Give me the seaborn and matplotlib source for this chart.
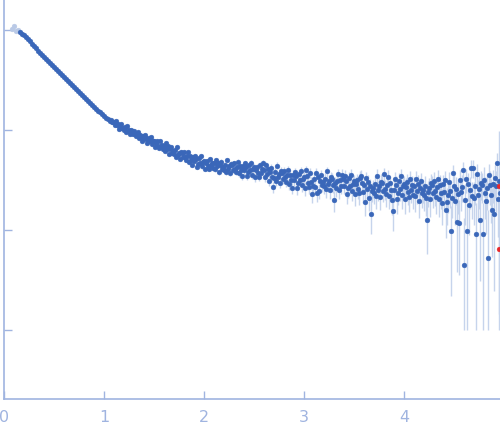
import numpy as np
import pandas as pd
import seaborn as sns
import matplotlib
matplotlib.use("Agg")
import matplotlib.pyplot as plt

# ------------------------------- setting start ------------------------------ #
point_color = "#3a67b9"
excluded_color = "#b9c9e6"
err_color = "#c6d4ec"
axis_color = "#a0b4e0"
red_color = "#e8272a"
# -------------------------------- setting end ------------------------------- #

# q grid (1/nm)
q_low = np.round(np.arange(0.08, 1.07, 0.02), 2)
q_high = np.round(np.arange(1.07, 4.965, 0.01), 2)

# log10 intensity
logI_low = [
    1.01, 1.04, 0.99, 1.00, 0.975, 0.96, 0.945, 0.925, 0.905, 0.885,
    0.856, 0.835, 0.816, 0.792, 0.773, 0.752, 0.733, 0.709, 0.690, 0.669,
    0.651, 0.629, 0.611, 0.590, 0.571, 0.548, 0.531, 0.509, 0.491, 0.469,
    0.451, 0.429, 0.410, 0.388, 0.371, 0.349, 0.330, 0.308, 0.291, 0.269,
    0.252, 0.229, 0.213, 0.191, 0.176, 0.155, 0.143, 0.122, 0.111, 0.092,
]
logI_high = [
    0.096, 0.075, 0.081,
    0.077, 0.046, 0.086, 0.050, 0.064, 0.014, 0.042, 0.057, 0.018, 0.023,
    0.004, 0.025, -0.017, 0.040, -0.010, -0.002, -0.042, 0.000, -0.011, -0.040,
    -0.010, -0.042, -0.064, -0.040, -0.019, -0.083, -0.048, -0.075, -0.110, -0.059,
    -0.086, -0.055, -0.077, -0.130, -0.113, -0.079, -0.110, -0.073, -0.140, -0.115,
    -0.107, -0.170, -0.127, -0.113, -0.158, -0.181, -0.111, -0.164, -0.146, -0.191,
    -0.158, -0.207, -0.135, -0.192, -0.164, -0.245, -0.193, -0.166, -0.226, -0.215,
    -0.240, -0.203, -0.266, -0.170, -0.246, -0.229, -0.288, -0.217, -0.230, -0.272,
    -0.220, -0.268, -0.299, -0.259, -0.223, -0.320, -0.262, -0.301, -0.354, -0.270,
    -0.309, -0.258, -0.289, -0.366, -0.337, -0.281, -0.326, -0.265, -0.365, -0.322,
    -0.311, -0.389, -0.328, -0.306, -0.360, -0.386, -0.291, -0.355, -0.328, -0.382,
    -0.335, -0.392, -0.298, -0.365, -0.326, -0.423, -0.354, -0.316, -0.387, -0.369,
    -0.396, -0.346, -0.420, -0.297, -0.387, -0.362, -0.431, -0.339, -0.351, -0.399,
    -0.331, -0.387, -0.421, -0.367, -0.318, -0.435, -0.359, -0.404, -0.465, -0.356,
    -0.401, -0.335, -0.370, -0.463, -0.425, -0.352, -0.405, -0.326, -0.448, -0.392,
    -0.375, -0.472, -0.396, -0.367, -0.434, -0.466, -0.347, -0.426, -0.391, -0.330,
    -0.399, -0.470, -0.354, -0.437, -0.390, -0.510, -0.425, -0.378, -0.467, -0.570,
    -0.479, -0.417, -0.510, -0.357, -0.470, -0.440, -0.527, -0.412, -0.428, -0.489,
    -0.406, -0.474, -0.516, -0.453, -0.396, -0.537, -0.447, -0.502, -0.577, -0.448,
    -0.504, -0.423, -0.465, -0.576, -0.529, -0.442, -0.505, -0.411, -0.555, -0.488,
    -0.468, -0.581, -0.400, -0.456, -0.534, -0.570, -0.430, -0.522, -0.640, -0.558,
    -0.488, -0.568, -0.432, -0.630, -0.469, -0.607, -0.506, -0.449, -0.551, -0.523,
    -0.560, -0.487, -0.592, -0.415, -0.542, -0.506, -0.603, -0.471, -0.486, -0.554,
    -0.700, -0.534, -0.581, -0.507, -0.440, -0.601, -0.496, -0.558, -0.450, -0.493,
    -0.556, -0.464, -0.512, -0.638, -0.585, -0.485, -0.557, -0.449, -0.614, -0.538,
    -0.515, -0.645, -0.542, -0.504, -0.593, -0.635, -0.476, -0.460, -0.535, -0.625,
    -0.546, -0.720, -0.481, -0.588, -0.522, -0.679, -0.565, -0.840, -0.614, -0.582,
    -0.626, -0.541, -0.660, -0.456, -0.601, -0.558, -0.669, -0.516, -0.533, -0.609,
    -0.440, -0.587, -0.640, -0.552, -0.472, -0.657, -0.534, -0.604, -0.701, -0.810,
    -0.600, -0.492, -0.546, -0.690, -0.627, -0.510, -0.591, -0.465, -0.654, -0.564,
    -0.542, -0.686, -0.569, -0.524, -0.623, -0.668, -0.488, -0.605, -0.551, -0.650,
    -0.563, -0.662, -0.491, -0.608, -0.536, -0.707, -0.581, -0.509, -0.635, -0.599,
    -0.649, -0.559, -0.685, -0.900, -0.622, -0.577, -0.694, -0.532, -0.550, -0.631,
    -0.515, -0.610, -0.667, -0.572, -0.486, -0.686, -0.553, -0.629, -0.733, -0.543,
    -0.623, -0.503, -0.800, -0.723, -0.653, -0.523, -0.613, -1.010, -0.683, -0.430,
    -0.558, -0.712, -0.587, -0.920, -0.644, -0.930, -0.500, -0.625, -0.568, -0.400,
    -1.350, -0.696, -0.491, -1.010, -0.545, -0.750, -0.599, -0.380, -0.664, -0.380,
    -0.685, -0.565, -1.040, -0.445, -0.649, -0.589, -0.900, -0.529, -0.553, -1.040,
    -0.499, -0.629, -0.707, -0.577, -1.280, -0.450, -0.551, -0.655, -0.798, -0.538,
    -0.840, -0.480, -0.564, -0.330, -0.690, -0.508, -0.634,
]

# absolute sigma per row (low q: rows of 10 at step 0.02; high q: rows of 0.1)
sigma_low_rows = [0.08, 0.05, 0.03, 0.02, 0.015]
sigma_high_rows = [0.014, 0.014, 0.014, 0.014, 0.015, 0.016, 0.017, 0.018, 0.019, 0.020,
                   0.022, 0.024, 0.026, 0.028, 0.030, 0.032, 0.034, 0.036, 0.038, 0.040,
                   0.042, 0.044, 0.046, 0.048, 0.050, 0.052, 0.054, 0.056, 0.058, 0.060,
                   0.062, 0.065, 0.068, 0.072, 0.076, 0.082, 0.088, 0.095, 0.105, 0.120]
high_row_sizes = [3] + [10] * 38 + [7]

n_excluded = 4

# points flagged red at the last q
q_red = [4.95, 4.95]
logI_red = [-0.56, -1.19]
sigma_red = [0.7, 0.05]

q = np.concatenate([q_low, q_high])
logI = np.array(logI_low + logI_high)
sigma = np.concatenate([np.repeat(sigma_low_rows, 10), np.repeat(sigma_high_rows, high_row_sizes)])

df = pd.DataFrame({"q": q, "I": 10 ** logI, "sigma": sigma})
df["used"] = np.arange(len(df)) >= n_excluded
df_red = pd.DataFrame({"q": q_red, "I": 10 ** np.array(logI_red), "sigma": sigma_red})

y_floor = 0.01

# draw
fig = plt.figure(figsize=(5, 4.37), dpi=100)
ax = fig.add_axes([0.008, 0.087, 0.992, 0.913])

for d in [df, df_red]:
    lower = np.minimum(d["sigma"], d["I"] - y_floor)
    ax.errorbar(d["q"], d["I"], yerr=[lower, d["sigma"]], fmt="none",
                ecolor=err_color, elinewidth=1.0, zorder=1)

sns.scatterplot(data=df[df["used"]], x="q", y="I", color=point_color, s=12,
                edgecolor=point_color, linewidth=0.3, ax=ax, zorder=3)
sns.scatterplot(data=df[~df["used"]], x="q", y="I", color=excluded_color, s=12,
                edgecolor=excluded_color, linewidth=0.3, ax=ax, zorder=2)
sns.scatterplot(data=df_red, x="q", y="I", color=red_color, s=12,
                edgecolor=red_color, linewidth=0.3, ax=ax, zorder=4)

ax.set_yscale("log")
ax.set_xlim(0, 4.96)
ax.set_ylim(10 ** -2.69, 10 ** 1.3)
ax.set_xticks([0, 1, 2, 3, 4])
ax.set_yticks([1e-2, 1e-1, 1e0, 1e1])
ax.yaxis.set_minor_locator(matplotlib.ticker.NullLocator())
ax.set_yticklabels([])
ax.set(xlabel="", ylabel="")

for side in ["top", "right"]:
    ax.spines[side].set_visible(False)
for side in ["left", "bottom"]:
    ax.spines[side].set_color(axis_color)
    ax.spines[side].set_linewidth(1.2)
ax.tick_params(axis="both", direction="in", length=6, width=1.0, color=axis_color,
               labelcolor=axis_color, labelsize=11.5, pad=8)

plt.savefig("out.png", dpi=100)
